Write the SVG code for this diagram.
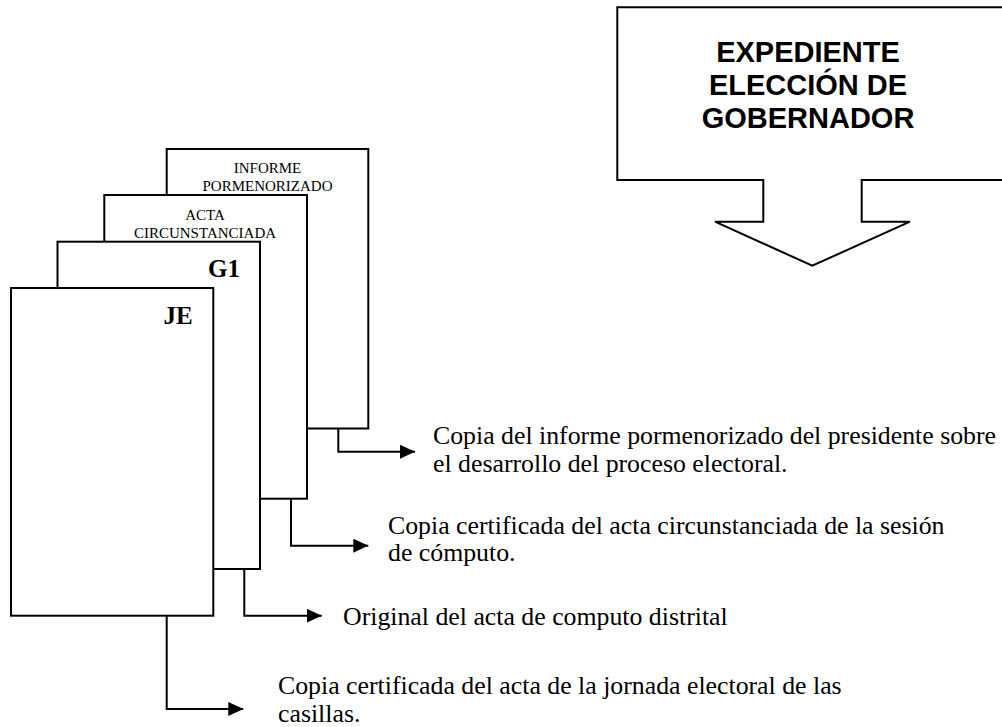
<svg xmlns="http://www.w3.org/2000/svg" width="1002" height="727" viewBox="0 0 1002 727">
<style>
.sheet{fill:#fff;stroke:#000;stroke-width:2}
.small{font-family:"Liberation Serif","Times New Roman",serif;font-size:15px;fill:#000;text-anchor:middle}
.code{font-family:"Liberation Serif","Times New Roman",serif;font-size:25px;font-weight:bold;fill:#000}
.desc{font-family:"Liberation Serif","Times New Roman",serif;font-size:25.8px;fill:#000}
.head{font-family:"Liberation Sans",Arial,sans-serif;font-size:29px;font-weight:bold;fill:#000;text-anchor:middle}
.conn{fill:none;stroke:#000;stroke-width:2}
</style>
<defs>
<marker id="arr" viewBox="0 0 15 14" refX="15" refY="7" markerWidth="15" markerHeight="14" markerUnits="userSpaceOnUse" orient="auto">
<path d="M0,0 L15,7 L0,14 z" fill="#000"/>
</marker>
</defs>
<rect width="1002" height="727" fill="#fff"/>
<g id="expediente">
<path class="sheet" d="M1004,7.3 H617.3 V180 H763.3 V221.7 H715 L812.3,265.7 L910,221.7 H861.7 V180 H1004"/>
<text class="head" x="808" y="62">EXPEDIENTE</text>
<text class="head" x="808" y="95">ELECCIÓN DE</text>
<text class="head" x="808" y="128">GOBERNADOR</text>
</g>
<g id="informe">
<rect class="sheet" x="166.7" y="149" width="201.6" height="279.5"/>
<text class="small" x="267.5" y="173">INFORME</text>
<text class="small" x="267.5" y="191">PORMENORIZADO</text>
</g>
<g id="acta">
<rect class="sheet" x="104.3" y="195" width="202.7" height="303.7"/>
<text class="small" x="205" y="220">ACTA</text>
<text class="small" x="205" y="238">CIRCUNSTANCIADA</text>
</g>
<g id="g1">
<rect class="sheet" x="57.5" y="241.7" width="202.5" height="327.3"/>
<text class="code" x="208" y="277">G1</text>
</g>
<g id="je">
<rect class="sheet" x="11" y="288" width="202.3" height="327.7"/>
<text class="code" x="163.5" y="324">JE</text>
</g>
<g id="connectors">
<path class="conn" d="M338.3,428.5 V451.7 H415" marker-end="url(#arr)"/>
<path class="conn" d="M291,498.7 V545.7 H368.3" marker-end="url(#arr)"/>
<path class="conn" d="M244.3,569 V615.7 H321.7" marker-end="url(#arr)"/>
<path class="conn" d="M166.7,615.7 V709 H243.3" marker-end="url(#arr)"/>
</g>
<g id="labels">
<text class="desc" x="433" y="444">Copia del informe pormenorizado del presidente sobre</text>
<text class="desc" x="433" y="472">el desarrollo del proceso electoral.</text>
<text class="desc" x="388" y="534">Copia certificada del acta circunstanciada de la sesión</text>
<text class="desc" x="388" y="561">de cómputo.</text>
<text class="desc" x="343" y="625">Original del acta de computo distrital</text>
<text class="desc" x="278" y="694">Copia certificada del acta de la jornada electoral de las</text>
<text class="desc" x="278" y="722">casillas.</text>
</g>
</svg>
